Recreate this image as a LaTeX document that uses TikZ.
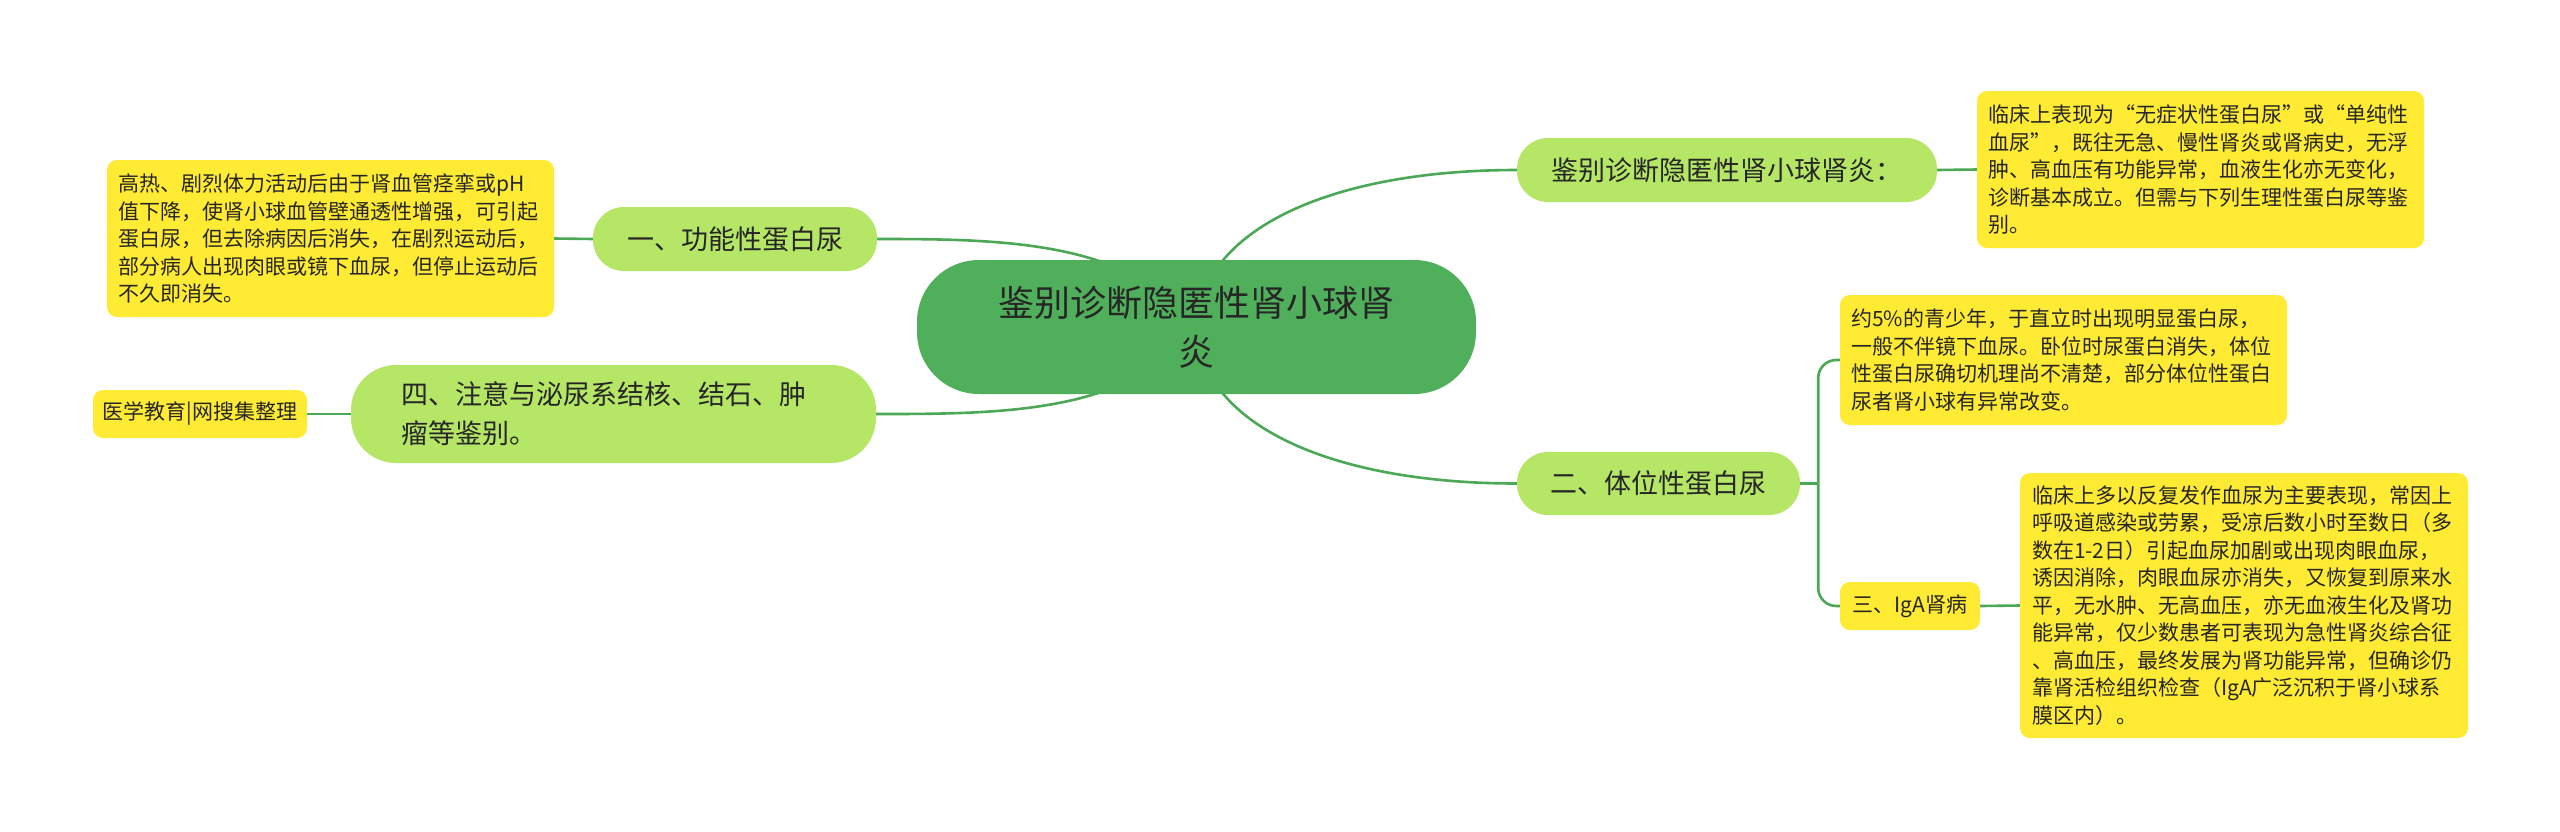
\documentclass[tikz,border=0pt]{standalone}
\usepackage{fontspec}
\setmainfont{Noto Sans CJK SC}
\usetikzlibrary{backgrounds,calc}
\definecolor{cgreen}{RGB}{80,175,91}
\definecolor{lcol}{RGB}{76,168,86}
\definecolor{lgreen}{RGB}{181,230,102}
\definecolor{yel}{RGB}{255,234,52}
\definecolor{txt}{RGB}{38,38,38}
\tikzset{
  central/.style={fill=cgreen, rounded corners=62pt, minimum width=559pt, minimum height=134pt, inner sep=0pt, align=center, text=txt, font=\fontsize{36}{49}\selectfont},
  topic/.style={fill=lgreen, rounded corners=31pt, minimum height=64pt, inner sep=0pt, text=txt, font=\fontsize{27}{39}\selectfont},
  note/.style={fill=yel, rounded corners=10pt, inner sep=0pt, text=txt, font=\fontsize{21}{27.5}\selectfont, align=left},
  link/.style={draw=lcol, line width=2.6pt}
}
\begin{document}
\begin{tikzpicture}[x=1pt,y=-1pt]
\useasboundingbox (0,0) rectangle (2560,831);
\node[central] (c) at (1196.5,327) {鉴别诊断隐匿性肾小球肾\\炎};
\node[topic, minimum width=420pt] (t1) at (1727,170) {鉴别诊断隐匿性肾小球肾炎：};
\node[note, minimum width=447pt, minimum height=157pt, text width=425pt] (d1) at (2200.5,169.5) {临床上表现为“无症状性蛋白尿”或“单纯性\\血尿”，既往无急、慢性肾炎或肾病史，无浮\\肿、高血压有功能异常，血液生化亦无变化，\\诊断基本成立。但需与下列生理性蛋白尿等鉴\\别。};
\node[topic, minimum width=284pt] (t2) at (735,239) {一、功能性蛋白尿};
\node[note, minimum width=447pt, minimum height=157pt, text width=425pt] (d2) at (330.5,238.5) {高热、剧烈体力活动后由于肾血管痉挛或pH\\值下降，使肾小球血管壁通透性增强，可引起\\蛋白尿，但去除病因后消失，在剧烈运动后，\\部分病人出现肉眼或镜下血尿，但停止运动后\\不久即消失。};
\node[topic, minimum width=525pt, minimum height=98pt, rounded corners=45pt, text width=425pt, align=left] (t4) at (613.5,414) {四、注意与泌尿系结核、结石、肿\\瘤等鉴别。};
\node[note, minimum width=214pt, minimum height=48pt, align=center] (d4) at (200,414) {医学教育|网搜集整理};
\node[topic, minimum width=283pt, minimum height=63pt] (t3) at (1658.5,483.5) {二、体位性蛋白尿};
\node[note, minimum width=447pt, minimum height=130pt, text width=425pt] (d3) at (2063.5,360) {约5\%的青少年，于直立时出现明显蛋白尿，\\一般不伴镜下血尿。卧位时尿蛋白消失，体位\\性蛋白尿确切机理尚不清楚，部分体位性蛋白\\尿者肾小球有异常改变。};
\node[note, minimum width=140pt, minimum height=48pt, align=center] (t5) at (1910,606) {三、IgA肾病};
\node[note, minimum width=448pt, minimum height=265pt, text width=424pt] (d5) at (2244,605.5) {临床上多以反复发作血尿为主要表现，常因上\\呼吸道感染或劳累，受凉后数小时至数日（多\\数在1-2日）引起血尿加剧或出现肉眼血尿，\\诱因消除，肉眼血尿亦消失，又恢复到原来水\\平，无水肿、无高血压，亦无血液生化及肾功\\能异常，仅少数患者可表现为急性肾炎综合征\\、高血压，最终发展为肾功能异常，但确诊仍\\靠肾活检组织检查（IgA广泛沉积于肾小球系\\膜区内）。};
\begin{scope}[on background layer]
\fill[white] (0,0) rectangle (2560,831);
\draw[link] (c.center) .. controls +(4,-97) and +(-187,0) .. (t1.west);
\draw[link] (c.center) .. controls +(4,97) and +(-187,0) .. (t3.west);
\draw[link] (c.center) .. controls +(-66,-87) and +(123,0) .. (t2.east);
\draw[link] (c.center) .. controls +(-66,87) and +(124,0) .. (t4.east);
\draw[link] (t1.east) -- (d1.west);
\draw[link] (t2.west) -- (d2.east);
\draw[link] (t4.west) -- (d4.east);
\draw[link] (t3.east) -- ++(18,0) coordinate (sp);
\draw[link, rounded corners=18pt] (sp) |- (d3.west);
\draw[link, rounded corners=18pt] (sp) |- (t5.west);
\draw[link] (t5.east) -- (d5.west);
\end{scope}
\end{tikzpicture}
\end{document}
